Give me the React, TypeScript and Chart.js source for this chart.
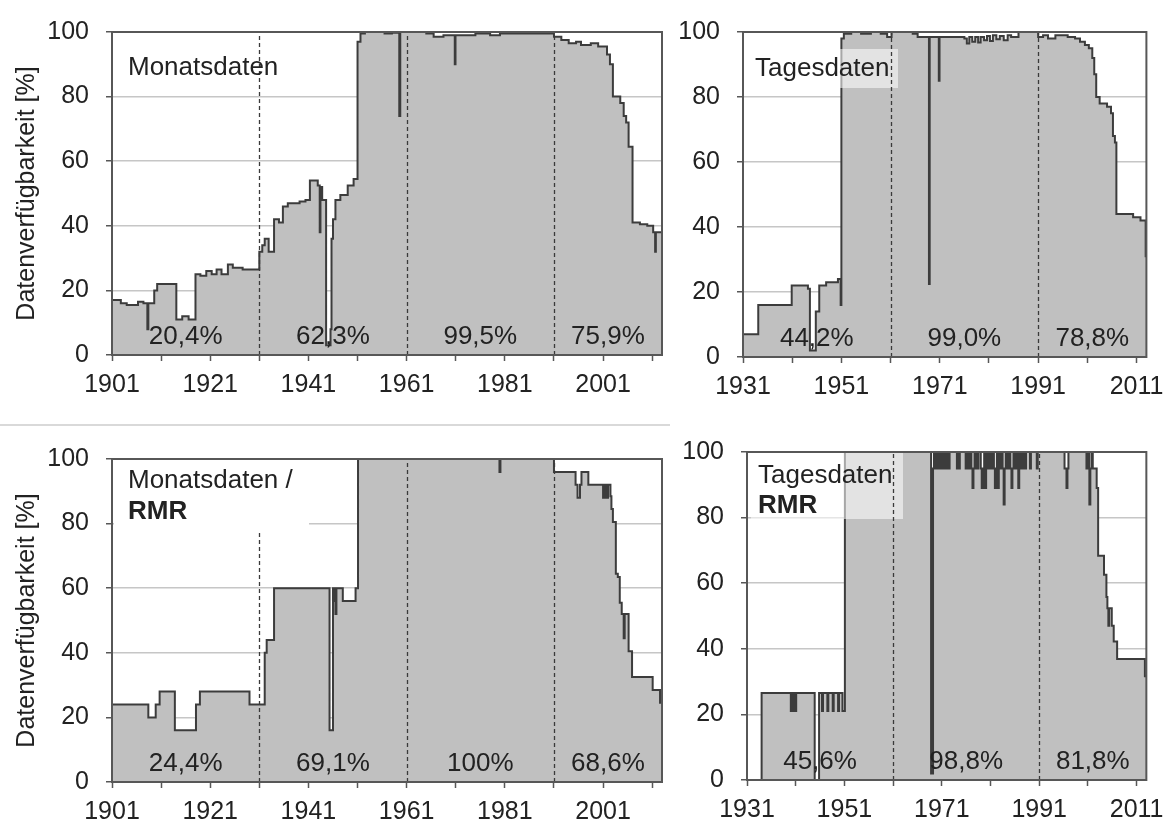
import React, { useEffect, useRef } from 'react';
import { Chart, registerables } from 'chart.js';

Chart.register(...registerables);

// ---------------- data ----------------
// Monatsdaten (top left): year from which the value holds, availability [%]
const TL_YEARS = [
  1901, 1902.8, 1904, 1906.3, 1907.4, 1908.2, 1908.4, 1909.6, 1910.2, 1914.1,
  1915.3, 1916.6, 1918, 1919, 1920.2, 1921.3, 1922.3, 1923.3, 1924.6, 1925.6,
  1927.6, 1931, 1931.6, 1932.1, 1932.9, 1934, 1935, 1935.8, 1936.8, 1939.2,
  1940.4, 1941.3, 1942.9, 1943.3, 1943.45, 1943.8, 1944.6, 1945.5, 1945.7, 1946.0,
  1946.5, 1947.5, 1949, 1950.2, 1951, 1951.6, 1952.5, 1956.5, 1958, 1959.5,
  1959.7, 1965, 1966.5, 1968.5, 1970.8, 1970.95, 1975, 1978, 1980, 1991,
  1992.5, 1994, 1995.5, 1996.5, 1998.5, 2000, 2001.8, 2002.4, 2003, 2004.5,
  2005.2, 2005.7, 2006.2, 2007, 2008.5, 2010, 2011.2, 2011.6, 2011.75, 2013,
];
const TL_VALUES = [
  17, 16, 15.5, 16.5, 16, 8, 16, 20, 22, 11,
  12, 11, 25, 24.5, 26, 25, 26.5, 25, 28, 27,
  26.5, 32, 34, 36, 32, 42, 41, 46, 47, 47.5,
  48, 54, 52.5, 38, 52, 48, 3, 8, 36, 42,
  48, 49.5, 52.5, 54.5, 97, 99.5, 100, 99.5, 99.8, 74,
  100, 99.5, 98.5, 99, 90, 99, 99.5, 99, 99.5, 98.5,
  97.5, 96.5, 97, 96, 96.5, 95.5, 93, 90, 80, 78,
  74, 72, 64.5, 41, 40.5, 40, 38, 32, 38, 38,
];

// Tagesdaten (top right)
const TR_YEARS = [
  1931, 1934.1, 1940.9, 1944.2, 1944.6, 1945.8, 1946.5, 1947.9, 1950.3, 1950.85,
  1951, 1951.5, 1953, 1955, 1957, 1959, 1960.3, 1961.2, 1965.5, 1966.5,
  1968.8, 1968.95, 1970.8, 1970.95, 1976, 1976.5, 1977, 1977.6, 1978.2, 1978.8,
  1979.3, 1980, 1980.6, 1981.2, 1981.8, 1982.5, 1983.2, 1984, 1984.8, 1985.5,
  1987, 1991, 1992, 1993, 1994.5, 1997, 1998.5, 1999.5, 2000.5, 2001.3,
  2002, 2002.4, 2002.8, 2003.5, 2005, 2005.8, 2006.2, 2006.6, 2006.9, 2010.3,
  2011.8, 2012.85, 2013,
];
const TR_VALUES = [
  7, 16, 22, 21, 2, 14, 22, 23, 24, 16,
  98, 99.5, 100, 99.5, 100, 99.5, 98.5, 100, 99.5, 98.5,
  22.5, 98.5, 85, 98.5, 98, 96.5, 98.5, 97, 98.5, 96.8,
  98.5, 97.5, 98.8, 97.2, 99, 97.8, 98.8, 97.5, 99, 98.5,
  100, 98.5, 99, 98, 99, 98.5, 98, 97, 96, 95,
  92, 87, 80, 78, 77, 75, 68, 66, 44, 43,
  42, 31, 31,
];

// Monatsdaten / RMR (bottom left)
const BL_YEARS = [
  1901, 1908.4, 1909.9, 1910.7, 1913.8, 1918.1, 1918.9, 1929, 1932.1, 1932.5,
  1934, 1945.3, 1946, 1946.3, 1946.5, 1946.7, 1948, 1950.6, 1951.1, 1979.9,
  1980.1, 1991, 1995.4, 1995.8, 1996.3, 1996.6, 1998, 2001, 2001.3, 2001.6,
  2002, 2002.5, 2002.7, 2003, 2003.6, 2004, 2004.4, 2004.8, 2005.2, 2005.4,
  2006.2, 2006.9, 2011.1, 2012.6, 2013,
];
const BL_VALUES = [
  24, 20, 24, 28, 16, 24, 28, 24, 40, 44,
  60, 16, 60, 56, 52, 60, 56, 60, 100, 96,
  100, 96, 92, 88, 92, 96, 92, 88, 92, 88,
  92, 88.5, 84.5, 80.5, 64.5, 63.5, 55.5, 52, 44.5, 52,
  40.5, 32.5, 28.5, 24.5, 24.5,
];

// Tagesdaten / RMR (bottom right)
const BR_YEARS = [
  1931, 1934, 1940, 1940.4, 1940.7, 1941.1, 1944.9, 1945.8, 1946.4, 1946.6,
  1947.5, 1947.7, 1948.6, 1948.8, 1949.7, 1949.9, 1950.6, 1951.1, 1968.8, 1969.2,
  1969.4, 1969.6, 1969.8, 1970.0, 1970.2, 1970.4, 1970.6, 1970.8, 1971.0, 1971.2,
  1971.4, 1971.6, 1971.8, 1972.0, 1972.2, 1972.4, 1972.6, 1974.1, 1974.3, 1974.5,
  1974.7, 1975.9, 1976.1, 1976.3, 1976.5, 1976.7, 1976.9, 1977.1, 1977.3, 1977.5,
  1977.7, 1977.9, 1978.1, 1978.3, 1978.5, 1979.0, 1979.2, 1979.5, 1979.7, 1979.9,
  1980.1, 1980.3, 1980.5, 1980.7, 1980.9, 1981.1, 1981.3, 1981.5, 1981.7, 1981.9,
  1982.1, 1982.3, 1982.5, 1982.7, 1982.9, 1983.1, 1983.3, 1983.5, 1983.7, 1983.9,
  1984.1, 1984.3, 1984.5, 1984.7, 1984.9, 1985.1, 1985.3, 1985.5, 1985.7, 1985.9,
  1986.1, 1986.3, 1986.5, 1986.7, 1986.9, 1987.1, 1987.3, 1987.5, 1987.7, 1987.9,
  1988.1, 1988.3, 1989.1, 1989.3, 1990.5, 1990.7, 1996.2, 1996.6, 1996.8, 1997,
  2000.7, 2001, 2001.3, 2001.5, 2001.8, 2002.0, 2002.8, 2003.1, 2004.3, 2004.8,
  2005.0, 2005.2, 2005.35, 2005.9, 2006.3, 2007.0, 2012.7, 2013,
];
const BR_VALUES = [
  0, 26.5, 21, 26.5, 21, 26.5, 0, 26.5, 21, 26.5,
  21, 26.5, 21, 26.5, 21, 26.5, 21, 100, 2, 95,
  100, 95, 100, 95, 100, 95, 100, 95, 100, 95,
  100, 95, 100, 95, 100, 95, 100, 95, 100, 95,
  100, 95, 100, 95, 100, 95, 100, 95, 89, 95,
  100, 95, 100, 95, 100, 95, 89, 95, 100, 89,
  95, 100, 95, 100, 95, 100, 95, 100, 95, 89,
  95, 100, 89, 95, 100, 95, 100, 95, 84, 95,
  100, 95, 100, 95, 100, 95, 89, 95, 100, 95,
  100, 95, 100, 89, 95, 100, 95, 100, 95, 100,
  95, 100, 95, 100, 95, 100, 95, 89, 95, 100,
  95, 100, 84, 95, 100, 95, 89, 68.4, 62.6, 55.8,
  52.4, 47, 52.4, 47, 42.2, 36.9, 31.6, 31.6,
];

// periods and their mean availability
const PERIODS_1901 = [1901, 1931, 1961, 1991, 2013];
const PERIODS_1931 = [1931, 1961, 1991, 2013];
const TL_SHARES = ['20,4%', '62,3%', '99,5%', '75,9%'];
const TR_SHARES = ['44,2%', '99,0%', '78,8%'];
const BL_SHARES = ['24,4%', '69,1%', '100%', '68,6%'];
const BR_SHARES = ['45,6%', '98,8%', '81,8%'];

// axes
const X_TICKS_1901 = [1901, 1911, 1921, 1931, 1941, 1951, 1961, 1971, 1981, 1991, 2001, 2011];
const X_LABELS_1901 = [1901, 1921, 1941, 1961, 1981, 2001];
const X_TICKS_1931 = [1931, 1941, 1951, 1961, 1971, 1981, 1991, 2001, 2011];
const X_LABELS_1931 = [1931, 1951, 1971, 1991, 2011];
const Y_TICKS = [0, 10, 20, 30, 40, 50, 60, 70, 80, 90, 100];
const Y_LABELS = [0, 20, 40, 60, 80, 100];
const Y_GRID = [20, 40, 60, 80];

const FONT = "'Liberation Sans', Arial, Helvetica, sans-serif";
const TEXT = '#222222';
const AXIS = '#575757';

type Box = { x0: number; y0: number; x1: number; y1: number; fill: string; aboveDashes: boolean };
type Label = { text: string; bold?: boolean; dx: number; dy: number };

type PanelCfg = {
  left: number; top: number; width: number; height: number;
  padTop: number; padRight: number; yW: number; xH: number;
  xmin: number; xmax: number;
  xTicks: number[]; xLabels: number[];
  years: number[]; values: number[];
  periods: number[]; shares: string[];
  labels: Label[];
  box: Box | null;
  yTitle: boolean;
};

const PANELS: PanelCfg[] = [
  {
    left: 0, top: 0, width: 700, height: 420, padTop: 23, padRight: 38, yW: 112, xH: 65,
    xmin: 1901, xmax: 2013, xTicks: X_TICKS_1901, xLabels: X_LABELS_1901,
    years: TL_YEARS, values: TL_VALUES, periods: PERIODS_1901, shares: TL_SHARES,
    labels: [{ text: 'Monatsdaten', dx: 16, dy: 36 }],
    box: null, yTitle: true,
  },
  {
    left: 620, top: 0, width: 553, height: 420, padTop: 25, padRight: 23, yW: 123, xH: 63,
    xmin: 1931, xmax: 2013, xTicks: X_TICKS_1931, xLabels: X_LABELS_1931,
    years: TR_YEARS, values: TR_VALUES, periods: PERIODS_1931, shares: TR_SHARES,
    labels: [{ text: 'Tagesdaten', dx: 12, dy: 37 }],
    box: { x0: 4, y0: 17, x1: 155, y1: 56, fill: 'rgba(255,255,255,0.55)', aboveDashes: false },
    yTitle: false,
  },
  {
    left: 0, top: 427, width: 700, height: 440, padTop: 20, padRight: 38, yW: 112, xH: 85,
    xmin: 1901, xmax: 2013, xTicks: X_TICKS_1901, xLabels: X_LABELS_1901,
    years: BL_YEARS, values: BL_VALUES, periods: PERIODS_1901, shares: BL_SHARES,
    labels: [{ text: 'Monatsdaten /', dx: 16, dy: 22 }, { text: 'RMR', bold: true, dx: 16, dy: 53 }],
    box: { x0: 2, y0: 2, x1: 197, y1: 73, fill: '#ffffff', aboveDashes: true },
    yTitle: true,
  },
  {
    left: 620, top: 420, width: 553, height: 440, padTop: 18, padRight: 21, yW: 127, xH: 80,
    xmin: 1931, xmax: 2013, xTicks: X_TICKS_1931, xLabels: X_LABELS_1931,
    years: BR_YEARS, values: BR_VALUES, periods: PERIODS_1931, shares: BR_SHARES,
    labels: [{ text: 'Tagesdaten', dx: 11, dy: 24 }, { text: 'RMR', bold: true, dx: 11, dy: 54 }],
    box: { x0: 4, y0: 1, x1: 156, y1: 67, fill: 'rgba(255,255,255,0.55)', aboveDashes: false },
    yTitle: false,
  },
];

function Panel({ cfg }: { cfg: PanelCfg }) {
  const ref = useRef<HTMLCanvasElement | null>(null);

  useEffect(() => {
    const canvas = ref.current;
    if (!canvas) return;

    const overlay = {
      id: 'overlay',
      afterDatasetsDraw(chart: any) {
        const { ctx, chartArea: a, scales } = chart;
        const xs = scales.x;
        const ys = scales.y;
        ctx.save();
        const drawBox = () => {
          if (!cfg.box) return;
          const b = cfg.box;
          ctx.fillStyle = b.fill;
          ctx.fillRect(a.left + b.x0, a.top + b.y0, b.x1 - b.x0, b.y1 - b.y0);
        };
        if (cfg.box && !cfg.box.aboveDashes) drawBox();
        // period separators
        ctx.strokeStyle = '#3a3a3a';
        ctx.lineWidth = 1.3;
        ctx.setLineDash([4, 3]);
        cfg.periods.slice(1, -1).forEach((p) => {
          const px = Math.round(xs.getPixelForValue(p)) + 0.5;
          ctx.beginPath();
          ctx.moveTo(px, ys.getPixelForValue(0));
          ctx.lineTo(px, ys.getPixelForValue(100));
          ctx.stroke();
        });
        ctx.setLineDash([]);
        if (cfg.box && cfg.box.aboveDashes) drawBox();
        // plot frame
        ctx.strokeStyle = AXIS;
        ctx.lineWidth = 2;
        ctx.strokeRect(a.left, a.top, a.right - a.left, a.bottom - a.top);
        // shares
        ctx.fillStyle = TEXT;
        ctx.font = `26px ${FONT}`;
        ctx.textAlign = 'center';
        ctx.textBaseline = 'middle';
        cfg.shares.forEach((s, i) => {
          const mid = (cfg.periods[i] + cfg.periods[i + 1]) / 2;
          ctx.fillText(s, xs.getPixelForValue(mid), ys.getPixelForValue(5.5));
        });
        // panel labels
        ctx.textAlign = 'left';
        cfg.labels.forEach((l) => {
          ctx.font = `${l.bold ? 'bold ' : ''}26px ${FONT}`;
          ctx.fillText(l.text, a.left + l.dx, a.top + l.dy);
        });
        ctx.restore();
      },
    };

    const chart = new Chart(canvas, {
      type: 'line',
      data: {
        datasets: [
          {
            data: cfg.years.map((x, i) => ({ x, y: cfg.values[i] })),
            stepped: true,
            borderColor: '#3c3c3c',
            borderWidth: 2,
            backgroundColor: '#c0c0c0',
            fill: 'origin',
            pointRadius: 0,
            pointHoverRadius: 0,
          } as any,
        ],
      },
      options: {
        animation: false,
        responsive: false,
        devicePixelRatio: 1,
        events: [],
        layout: { padding: { top: cfg.padTop, right: cfg.padRight, left: 0, bottom: 0 } },
        plugins: { legend: { display: false }, tooltip: { enabled: false } },
        scales: {
          x: {
            type: 'linear',
            min: cfg.xmin,
            max: cfg.xmax,
            afterBuildTicks: (s: any) => {
              s.ticks = cfg.xTicks.map((v) => ({ value: v }));
            },
            afterFit: (s: any) => {
              s.height = cfg.xH;
            },
            grid: {
              drawOnChartArea: false,
              drawTicks: true,
              tickLength: 6,
              tickColor: AXIS,
              tickWidth: 1.5,
              color: AXIS,
            },
            border: { display: false },
            ticks: {
              autoSkip: false,
              maxRotation: 0,
              minRotation: 0,
              padding: 9,
              color: TEXT,
              font: { family: FONT, size: 25 },
              callback: (v: any) => (cfg.xLabels.includes(Number(v)) ? String(v) : ''),
            },
          },
          y: {
            type: 'linear',
            min: 0,
            max: 100,
            afterBuildTicks: (s: any) => {
              s.ticks = Y_TICKS.map((v) => ({ value: v }));
            },
            afterFit: (s: any) => {
              s.width = cfg.yW;
            },
            grid: {
              color: (c: any) => (c.tick && Y_GRID.includes(c.tick.value) ? '#c6c6c6' : 'rgba(0,0,0,0)'),
              lineWidth: 1.5,
              drawTicks: true,
              tickLength: 6,
              tickColor: AXIS,
              tickWidth: 1.5,
            },
            border: { display: false },
            ticks: {
              padding: 17,
              color: TEXT,
              font: { family: FONT, size: 25 },
              callback: (v: any) => (Y_LABELS.includes(Number(v)) ? String(v) : ''),
            },
            title: {
              display: cfg.yTitle,
              text: 'Datenverfügbarkeit [%]',
              color: TEXT,
              font: { family: FONT, size: 25 },
              padding: { top: 12, bottom: 0 },
            },
          },
        },
      } as any,
      plugins: [overlay],
    });
    return () => chart.destroy();
  }, [cfg]);

  return (
    <canvas
      ref={ref}
      width={cfg.width}
      height={cfg.height}
      style={{ position: 'absolute', left: cfg.left, top: cfg.top, width: cfg.width, height: cfg.height }}
    />
  );
}

export default function App() {
  return (
    <div
      style={{
        position: 'absolute',
        left: 0,
        top: 0,
        width: 1173,
        height: 823,
        overflow: 'hidden',
        background: '#ffffff',
      }}
    >
      <div style={{ position: 'absolute', left: 0, top: 424, width: 670, height: 2, background: '#d9d9d9' }} />
      {PANELS.map((p, i) => (
        <Panel key={i} cfg={p} />
      ))}
    </div>
  );
}
